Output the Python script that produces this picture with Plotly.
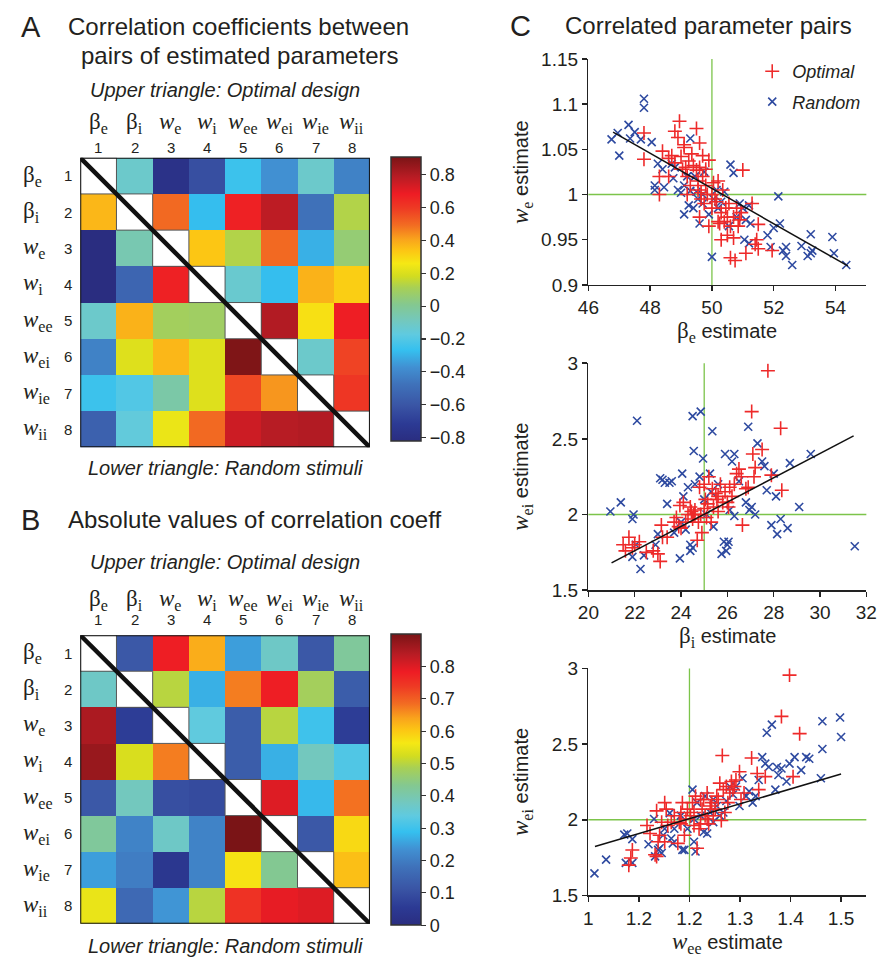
import plotly.graph_objects as go

W, H = 891, 971
SANS = "Liberation Sans, Arial, sans-serif"
SERIF = "Liberation Serif, Times New Roman, serif"
TXT = "#231f20"

# ---------------- data ----------------
param_labels = ["β<sub>e</sub>", "β<sub>i</sub>", "<i>w</i><sub>e</sub>", "<i>w</i><sub>i</sub>",
                "<i>w</i><sub>ee</sub>", "<i>w</i><sub>ei</sub>", "<i>w</i><sub>ie</sub>", "<i>w</i><sub>ii</sub>"]
param_index = [1, 2, 3, 4, 5, 6, 7, 8]

# upper triangle (Optimal design): row i, columns j>i
optimal_upper = [
    [-0.12, -0.78, -0.63, -0.25, -0.37, -0.12, -0.42],
    [0.50, -0.27, 0.67, 0.78, -0.48, 0.13],
    [0.34, 0.13, 0.50, -0.30, 0.06],
    [-0.13, -0.27, 0.38, 0.32],
    [0.80, 0.28, 0.68],
    [-0.12, 0.58],
    [0.61],
    [],
]
# lower triangle (Random stimuli): row i, columns j<i
random_lower = [
    [],
    [0.37],
    [-0.85, -0.06],
    [-0.87, -0.53, 0.67],
    [-0.12, 0.38, 0.10, 0.09],
    [-0.42, 0.21, 0.37, 0.21, 0.90],
    [-0.25, -0.20, -0.04, 0.21, 0.57, 0.43],
    [-0.55, -0.16, 0.24, 0.50, 0.75, 0.79, 0.80],
]

corr_ticks = [-0.8, -0.6, -0.4, -0.2, 0, 0.2, 0.4, 0.6, 0.8]
abs_ticks = [0, 0.1, 0.2, 0.3, 0.4, 0.5, 0.6, 0.7, 0.8]

# Panel C1: beta_e vs w_e
opt1_x = [47.8, 47.8, 48.3, 48.3, 48.4, 48.6, 48.6, 48.7, 48.8, 48.8, 48.9, 48.95, 49.0, 49.05, 49.1, 49.1,
          49.15, 49.2, 49.25, 49.3, 49.35, 49.4, 49.5, 49.5, 49.55, 49.6, 49.6, 49.6, 49.65, 49.7, 49.7, 49.75,
          49.8, 49.8, 49.85, 49.9, 50.0, 50.05, 50.1, 50.15, 50.2, 50.25, 50.3, 50.3, 50.35, 50.4, 50.45, 50.5,
          50.5, 50.55, 50.6, 50.6, 50.7, 50.7, 50.75, 50.8, 50.85, 50.9, 50.95, 51.0, 51.1, 51.3, 51.4, 51.45,
          51.5, 51.5, 51.95, 49.9, 49.2, 49.65, 50.2, 50.0, 49.55]
opt1_y = [1.068, 1.039, 1.000, 1.020, 1.048, 1.040, 1.020, 1.043, 1.070, 1.035, 1.063, 1.081, 1.042, 1.028,
          1.055, 1.052, 1.030, 1.020, 1.037, 1.010, 1.045, 1.032, 1.027, 1.073, 1.005, 1.057, 1.030, 0.975,
          0.995, 1.020, 1.043, 0.990, 1.010, 1.028, 1.000, 1.038, 0.985, 1.013, 0.995, 0.992, 1.015, 0.968,
          0.950, 0.980, 1.005, 0.970, 0.985, 0.955, 0.975, 0.990, 0.965, 0.930, 0.952, 0.975, 0.927, 0.985,
          0.965, 0.972, 0.980, 1.027, 0.935, 0.990, 0.945, 0.950, 0.940, 0.967, 0.938, 0.965, 1.000, 1.002,
          0.970, 1.000, 1.015]
rnd1_x = [46.75, 46.95, 47.0, 47.3, 47.35, 47.5, 47.7, 47.8, 47.8, 48.05, 48.15, 48.15, 48.25, 48.4, 48.45,
          48.7, 48.8, 48.75, 49.0, 49.1, 49.1, 49.2, 49.25, 49.3, 49.3, 49.4, 49.5, 49.55, 49.6, 49.7, 49.75,
          49.9, 50.0, 50.05, 50.15, 50.2, 50.3, 50.4, 50.6, 50.7, 50.55, 50.8, 50.9, 51.0, 51.05, 51.1, 51.2,
          51.2, 51.25, 51.8, 51.9, 52.0, 52.15, 52.2, 52.3, 52.4, 52.4, 52.6, 52.9, 53.1, 53.2, 53.2, 53.25,
          53.9, 53.95, 54.35, 49.45, 48.9, 49.7]
rnd1_y = [1.061, 1.068, 1.043, 1.077, 1.062, 1.069, 1.061, 1.106, 1.096, 1.058, 1.010, 1.005, 1.034, 1.028,
          1.008, 1.034, 1.030, 1.018, 1.002, 1.010, 0.978, 1.020, 0.988, 1.062, 1.004, 0.985, 1.003, 0.995,
          0.968, 1.000, 1.025, 0.978, 0.931, 0.995, 1.005, 0.985, 0.992, 1.003, 1.033, 1.024, 0.965, 0.975,
          0.990, 0.985, 0.950, 0.972, 0.988, 0.946, 0.968, 0.955, 0.942, 0.963, 0.998, 0.968, 0.938, 0.942,
          0.932, 0.922, 0.943, 0.932, 0.935, 0.956, 0.938, 0.953, 0.935, 0.922, 1.020, 1.005, 0.990]
fit1_x = [46.8, 54.4]
fit1_y = [1.069, 0.921]

# Panel C2: beta_i vs w_ei
opt2_x = [21.5, 21.6, 21.75, 21.9, 22.0, 22.2, 22.5, 22.8, 23.0, 23.1, 23.15, 23.2, 23.4, 23.7, 23.8, 23.9,
          23.95, 24.0, 24.1, 24.2, 24.3, 24.4, 24.45, 24.5, 24.55, 24.6, 24.7, 24.75, 24.8, 24.85, 24.9, 25.0,
          25.05, 25.1, 25.15, 25.2, 25.3, 25.35, 25.4, 25.5, 25.55, 25.6, 25.7, 25.8, 25.9, 26.0, 26.05, 26.1,
          26.2, 26.3, 26.4, 26.5, 26.6, 26.65, 26.8, 26.9, 27.05, 27.1, 27.15, 27.2, 27.5, 27.75, 27.9, 28.3,
          28.35, 25.6, 25.0, 24.6]
opt2_y = [1.80, 1.76, 1.85, 1.78, 1.80, 1.82, 1.75, 1.76, 1.74, 1.69, 1.93, 1.85, 1.85, 1.95, 1.98, 1.92,
          2.06, 1.91, 2.08, 1.95, 2.00, 2.05, 2.02, 1.97, 2.00, 2.03, 1.83, 1.95, 2.18, 2.00, 1.88, 2.04,
          2.10, 1.98, 2.07, 2.25, 1.95, 2.17, 2.05, 2.14, 2.10, 2.12, 2.20, 2.08, 2.15, 2.08, 2.05, 2.18,
          2.12, 2.20, 2.27, 2.30, 2.25, 1.93, 2.17, 2.18, 2.68, 2.40, 2.25, 2.31, 2.43, 2.95, 2.26, 2.57,
          2.16, 2.02, 2.20, 2.00]
rnd2_x = [20.95, 21.4, 21.9, 21.9, 21.95, 22.05, 22.1, 22.25, 22.4, 22.9, 23.0, 23.1, 23.2, 23.3, 23.4, 23.5,
          23.6, 23.7, 23.95, 24.05, 24.1, 24.2, 24.3, 24.4, 24.4, 24.5, 24.5, 24.55, 24.6, 24.8, 24.85, 24.95,
          25.0, 25.1, 25.25, 25.35, 25.4, 25.6, 25.75, 25.85, 25.9, 25.95, 26.0, 26.05, 26.1, 26.2, 26.3, 26.3,
          26.5, 26.8, 26.9, 26.95, 27.05, 27.2, 27.3, 27.5, 27.6, 27.7, 27.9, 28.0, 28.1, 28.15, 28.3, 28.6,
          28.7, 29.1, 29.6, 31.5, 25.3, 24.0]
rnd2_y = [2.02, 2.08, 1.97, 1.72, 2.00, 1.80, 2.62, 1.64, 1.73, 1.80, 1.87, 2.24, 2.23, 2.21, 2.07, 2.21,
          2.22, 1.88, 1.71, 2.27, 2.12, 1.90, 2.18, 1.80, 1.76, 1.78, 2.65, 2.42, 2.20, 2.25, 2.68, 2.37,
          2.10, 2.00, 2.27, 2.55, 1.92, 2.20, 1.74, 1.82, 2.40, 1.76, 1.80, 1.82, 2.03, 2.35, 2.40, 1.99,
          2.22, 2.08, 2.58, 2.03, 2.05, 2.00, 2.47, 2.35, 2.32, 2.16, 1.93, 2.27, 2.12, 1.87, 1.97, 1.91,
          2.34, 2.05, 2.40, 1.79, 2.15, 1.95]
fit2_x = [21.0, 31.45]
fit2_y = [1.68, 2.52]

# Panel C3: w_ee vs w_ei
opt3_x = [1.080, 1.084, 1.087, 1.116, 1.122, 1.132, 1.135, 1.135, 1.138, 1.141, 1.145, 1.151, 1.151, 1.154,
          1.157, 1.164, 1.170, 1.177, 1.180, 1.183, 1.186, 1.190, 1.193, 1.196, 1.202, 1.206, 1.209, 1.212,
          1.215, 1.219, 1.222, 1.225, 1.228, 1.231, 1.235, 1.238, 1.241, 1.244, 1.247, 1.251, 1.254, 1.257,
          1.260, 1.263, 1.265, 1.267, 1.270, 1.273, 1.276, 1.280, 1.283, 1.286, 1.289, 1.292, 1.299, 1.302,
          1.308, 1.323, 1.334, 1.337, 1.350, 1.382, 1.398, 1.405, 1.418, 1.183, 1.209, 1.235, 1.222]
opt3_y = [1.700, 1.747, 1.800, 1.962, 1.909, 1.769, 1.758, 2.059, 1.855, 1.898, 1.984, 2.113, 1.855, 2.070,
          1.962, 1.984, 2.027, 1.844, 1.984, 2.048, 2.113, 1.898, 2.005, 2.070, 2.027, 2.113, 2.048, 2.156,
          1.812, 1.941, 1.973, 2.070, 2.134, 2.027, 2.177, 1.973, 2.091, 2.113, 2.027, 2.070, 2.156, 2.134,
          2.242, 1.995, 2.425, 2.199, 2.048, 2.220, 2.113, 2.177, 2.253, 2.199, 2.220, 2.263, 2.317, 2.134,
          2.177, 2.408, 2.306, 2.199, 2.285, 2.683, 2.956, 2.285, 2.569, 1.973, 1.962, 2.005, 2.134]
rnd3_x = [1.012, 1.035, 1.071, 1.074, 1.077, 1.087, 1.087, 1.119, 1.130, 1.132, 1.138, 1.141, 1.145, 1.148,
          1.151, 1.161, 1.164, 1.170, 1.183, 1.186, 1.190, 1.196, 1.206, 1.209, 1.212, 1.215, 1.222, 1.228,
          1.231, 1.235, 1.241, 1.247, 1.254, 1.260, 1.267, 1.273, 1.280, 1.286, 1.292, 1.299, 1.305, 1.312,
          1.318, 1.325, 1.331, 1.337, 1.344, 1.350, 1.353, 1.357, 1.363, 1.370, 1.373, 1.376, 1.382, 1.392,
          1.398, 1.408, 1.421, 1.431, 1.437, 1.460, 1.463, 1.463, 1.498, 1.500, 1.167, 1.209, 1.247]
rnd3_y = [1.646, 1.737, 1.902, 1.715, 1.909, 1.715, 1.872, 1.838, 2.005, 1.758, 1.801, 1.812, 1.780, 1.898,
          1.941, 2.044, 1.876, 1.941, 2.027, 1.801, 1.801, 1.941, 2.199, 2.005, 1.790, 2.113, 2.027, 1.919,
          2.156, 1.909, 2.048, 1.984, 2.091, 2.027, 2.048, 2.124, 2.220, 2.167, 2.220, 2.091, 2.274, 2.156,
          2.188, 2.113, 2.156, 2.263, 2.414, 2.371, 2.575, 2.349, 2.629, 2.199, 2.349, 2.296, 2.339, 2.253,
          2.371, 2.414, 2.328, 2.414, 2.403, 2.274, 2.468, 2.651, 2.676, 2.547, 1.844, 1.855, 2.134]
fit3_x = [1.013, 1.500]
fit3_y = [1.823, 2.302]

true_beta_e, true_w_e = 50, 1.0
true_beta_i, true_w_ei = 25, 2.0
true_w_ee = 1.2

c1_xticks = [46, 48, 50, 52, 54]
c1_yticks = [0.9, 0.95, 1.0, 1.05, 1.1, 1.15]
c1_yticktext = ["0.9", "0.95", "1", "1.05", "1.1", "1.15"]
c2_xticks = [20, 22, 24, 26, 28, 30, 32]
c2_yticks = [1.5, 2.0, 2.5, 3.0]
c2_yticktext = ["1.5", "2", "2.5", "3"]
c3_xticks = [1.0, 1.1, 1.2, 1.3, 1.4, 1.5]
c3_xticktext = ["1", "1.2", "1.2", "1.3", "1.4", "1.5"]

# ---------------- helpers ----------------
def px_x(p):
    return p / W


def px_y(p):
    return 1 - p / H


n = len(param_index)
corr = [[None] * n for _ in range(n)]
for i in range(n):
    for k, v in enumerate(optimal_upper[i]):
        corr[i][i + 1 + k] = v
    for k, v in enumerate(random_lower[i]):
        corr[i][k] = v
corr_abs = [[None if v is None else abs(v) for v in row] for row in corr]

jet = [
    [0.0, "#2a2d80"], [0.06, "#2c3a94"], [0.125, "#3a55a5"], [0.2, "#3f72ba"], [0.26, "#4190d2"],
    [0.32, "#35c0ef"], [0.375, "#5fcae0"], [0.42, "#72c8c0"], [0.48, "#84c890"], [0.54, "#a8d055"],
    [0.58, "#d2dc20"], [0.625, "#f5e814"], [0.67, "#fcc614"], [0.71, "#f9a41c"], [0.76, "#f26c22"],
    [0.82, "#ee3a24"], [0.87, "#ee1c24"], [0.93, "#b81c24"], [1.0, "#7a1416"],
]

fig = go.Figure()

hm_top = {"A": 151, "B": 639}
hm_bot = {"A": 447, "B": 934}
hm_left, hm_right = 71, 368

cb_common = dict(thickness=30, thicknessmode="pixels", lenmode="fraction", xanchor="left",
                 yanchor="top", xpad=0, ypad=0, outlinewidth=1.5, outlinecolor="#333",
                 ticks="outside", ticklen=5, tickcolor="#333", tickwidth=1.2,
                 tickfont=dict(family=SANS, size=18, color=TXT))

fig.add_trace(go.Heatmap(
    z=corr, x=param_index, y=param_index, xaxis="x", yaxis="y",
    colorscale=jet, zmin=-0.82, zmax=0.91, hoverinfo="skip",
    colorbar=dict(x=px_x(390), y=px_y(150), len=290 / H, tickvals=corr_ticks, **cb_common),
))
fig.add_trace(go.Heatmap(
    z=corr_abs, x=param_index, y=param_index, xaxis="x2", yaxis="y2",
    colorscale=jet, zmin=0, zmax=0.9, hoverinfo="skip",
    colorbar=dict(x=px_x(390), y=px_y(638), len=297 / H, tickvals=abs_ticks, **cb_common),
))

RED = "#ee2a2a"
BLUE = "#2e4aa0"
GREEN = "#7cc44a"

panels = [
    ("x3", "y3", opt1_x, opt1_y, rnd1_x, rnd1_y, fit1_x, fit1_y),
    ("x4", "y4", opt2_x, opt2_y, rnd2_x, rnd2_y, fit2_x, fit2_y),
    ("x5", "y5", opt3_x, opt3_y, rnd3_x, rnd3_y, fit3_x, fit3_y),
]
for k, (xa, ya, ox, oy, rx, ry, fx, fy) in enumerate(panels):
    fig.add_trace(go.Scatter(x=rx, y=ry, xaxis=xa, yaxis=ya, mode="markers", name="Random",
                             legendrank=2, legendgroup="rnd", showlegend=(k == 0), hoverinfo="skip",
                             marker=dict(symbol="x-thin", size=8, line=dict(color=BLUE, width=1.6), color=BLUE)))
    fig.add_trace(go.Scatter(x=ox, y=oy, xaxis=xa, yaxis=ya, mode="markers", name="Optimal",
                             legendrank=1, legendgroup="opt", showlegend=(k == 0), hoverinfo="skip",
                             marker=dict(symbol="cross-thin", size=10, line=dict(color=RED, width=1.6), color=RED)))
    fig.add_trace(go.Scatter(x=fx, y=fy, xaxis=xa, yaxis=ya, mode="lines", showlegend=False,
                             hoverinfo="skip", line=dict(color="#111", width=1.5)))

# ---------------- layout ----------------
layout = dict(
    width=W, height=H, margin=dict(l=0, r=0, t=0, b=0),
    paper_bgcolor="white", plot_bgcolor="white",
    font=dict(family=SANS, color=TXT),
    legend=dict(x=px_x(760), y=px_y(44), xanchor="left", yanchor="top", bgcolor="rgba(0,0,0,0)",
                font=dict(family=SANS, size=18, color=TXT, style="italic"), tracegroupgap=4,
                itemwidth=30),
)

hm_axes = [("xaxis", "yaxis", "A"), ("xaxis2", "yaxis2", "B")]
for xa, ya, key in hm_axes:
    layout[xa] = dict(domain=[px_x(hm_left), px_x(hm_right)], range=[0.5, n + 0.5], showticklabels=False,
                      ticks="", showgrid=False, zeroline=False, showline=False,
                      anchor=ya.replace("yaxis", "y"))
    layout[ya] = dict(domain=[px_y(hm_bot[key]), px_y(hm_top[key])], range=[n + 0.5, 0.5],
                      showticklabels=False, ticks="", showgrid=False, zeroline=False, showline=False,
                      anchor=xa.replace("xaxis", "x"))

sc_left, sc_right = 592, 877
sc_rows = [(50, 281), (361, 593), (673, 905)]
sc_ranges = [([46, 55], [0.9, 1.15]), ([20, 32], [1.5, 3.0]), ([1.0, 1.55], [1.5, 3.0])]
sc_xticks = [(c1_xticks, [str(v) for v in c1_xticks]), (c2_xticks, [str(v) for v in c2_xticks]),
             (c3_xticks, c3_xticktext)]
sc_yticks = [(c1_yticks, c1_yticktext), (c2_yticks, c2_yticktext), (c2_yticks, c2_yticktext)]
axis_style = dict(showgrid=False, zeroline=False, showline=True, linecolor="#222", linewidth=1.5,
                  ticks="outside", ticklen=5, tickwidth=1.5, tickcolor="#222",
                  tickfont=dict(family=SANS, size=19, color=TXT))
for k in range(3):
    xa, ya = f"xaxis{k + 3}", f"yaxis{k + 3}"
    top, bot = sc_rows[k]
    layout[xa] = dict(domain=[px_x(sc_left), px_x(sc_right)], range=sc_ranges[k][0],
                      tickvals=sc_xticks[k][0], ticktext=sc_xticks[k][1], anchor=f"y{k + 3}", **axis_style)
    layout[ya] = dict(domain=[px_y(bot), px_y(top)], range=sc_ranges[k][1],
                      tickvals=sc_yticks[k][0], ticktext=sc_yticks[k][1], anchor=f"x{k + 3}", **axis_style)

shapes = []
for xr, yr in [("x", "y"), ("x2", "y2")]:
    for i in param_index:
        shapes.append(dict(type="rect", xref=xr, yref=yr, x0=i - 0.5, x1=i + 0.5, y0=i - 0.5, y1=i + 0.5,
                           line=dict(color="#555", width=1), fillcolor="rgba(0,0,0,0)", layer="above"))
    shapes.append(dict(type="line", xref=xr, yref=yr, x0=0.5, y0=0.5, x1=n + 0.5, y1=n + 0.5,
                       line=dict(color="#111", width=4.5), layer="above"))
    shapes.append(dict(type="rect", xref=xr, yref=yr, x0=0.5, y0=0.5, x1=n + 0.5, y1=n + 0.5,
                       line=dict(color="#111", width=2), fillcolor="rgba(0,0,0,0)", layer="above"))

true_pairs = [(true_beta_e, true_w_e), (true_beta_i, true_w_ei), (true_w_ee, true_w_ei)]
for k, (tx, ty) in enumerate(true_pairs):
    xr, yr = f"x{k + 3}", f"y{k + 3}"
    shapes.append(dict(type="line", xref=xr, yref=f"{yr} domain", x0=tx, x1=tx, y0=0, y1=1,
                       line=dict(color=GREEN, width=1.3), layer="below"))
    shapes.append(dict(type="line", xref=f"{xr} domain", yref=yr, x0=0, x1=1, y0=ty, y1=ty,
                       line=dict(color=GREEN, width=1.3), layer="below"))
layout["shapes"] = shapes

ann = []


def text(x, y, s, size, xanchor="left", family=SANS, angle=0, xref="paper", yref="paper", yanchor="middle"):
    ann.append(dict(x=x, y=y, xref=xref, yref=yref, text=s, showarrow=False, xanchor=xanchor,
                    yanchor=yanchor, textangle=angle, borderpad=0,
                    font=dict(family=family, size=size, color=TXT)))


# panel titles
text(px_x(9), px_y(17), "A", 29)
text(px_x(57), px_y(17), "Correlation coefficients between", 24)
text(px_x(71), px_y(47), "pairs of estimated parameters", 24)
text(px_x(9), px_y(521), "B", 29)
text(px_x(57), px_y(521), "Absolute values of correlation coeff", 24)
text(px_x(511), px_y(16), "C", 29)
text(px_x(567), px_y(16), "Correlated parameter pairs", 24)

sub_y = {"A": (82, 468), "B": (564, 957)}
col_sym_y = {"A": 116, "B": 603}
col_num_y = {"A": 141, "B": 623}
for xr, yr, key in [("x", "y", "A"), ("x2", "y2", "B")]:
    up, low = sub_y[key]
    text((px_x(hm_left) + px_x(hm_right)) / 2, px_y(up), "<i>Upper triangle: Optimal design</i>", 20,
         xanchor="center")
    text((px_x(hm_left) + px_x(hm_right)) / 2, px_y(low), "<i>Lower triangle: Random stimuli</i>", 20,
         xanchor="center")
    for idx, lab in zip(param_index, param_labels):
        text(idx, px_y(col_sym_y[key]), lab, 23, xanchor="center", family=SERIF, xref=xr)
        text(idx, px_y(col_num_y[key]), str(idx), 15, xanchor="center", xref=xr)
        text(px_x(11), idx, lab, 23, xanchor="left", family=SERIF, yref=yr)
        text(px_x(58), idx, str(idx), 15, xanchor="center", yref=yr)

serif_span = '<span style="font-family:Liberation Serif;font-size:23px">{}</span>'
ytitles = [serif_span.format("<i>w</i><sub>e</sub>") + " estimate",
           serif_span.format("<i>w</i><sub>ei</sub>") + " estimate",
           serif_span.format("<i>w</i><sub>ei</sub>") + " estimate"]
xtitles = [serif_span.format("β<sub>e</sub>") + " estimate",
           serif_span.format("β<sub>i</sub>") + " estimate",
           serif_span.format("<i>w</i><sub>ee</sub>") + " estimate"]
xtitle_top = [314, 626, 938]
for k in range(3):
    top, bot = sc_rows[k]
    text(px_x(524), px_y((top + bot) / 2), ytitles[k], 20, xanchor="center", angle=-90)
    text(px_x((sc_left + sc_right) / 2), px_y(xtitle_top[k]), xtitles[k], 20, xanchor="center",
         yanchor="top")

layout["annotations"] = ann
fig.update_layout(**layout)
fig.write_html("out.html", config={"displayModeBar": False, "staticPlot": True},
               post_script="document.body.style.margin='0';document.body.style.overflow='hidden';")
